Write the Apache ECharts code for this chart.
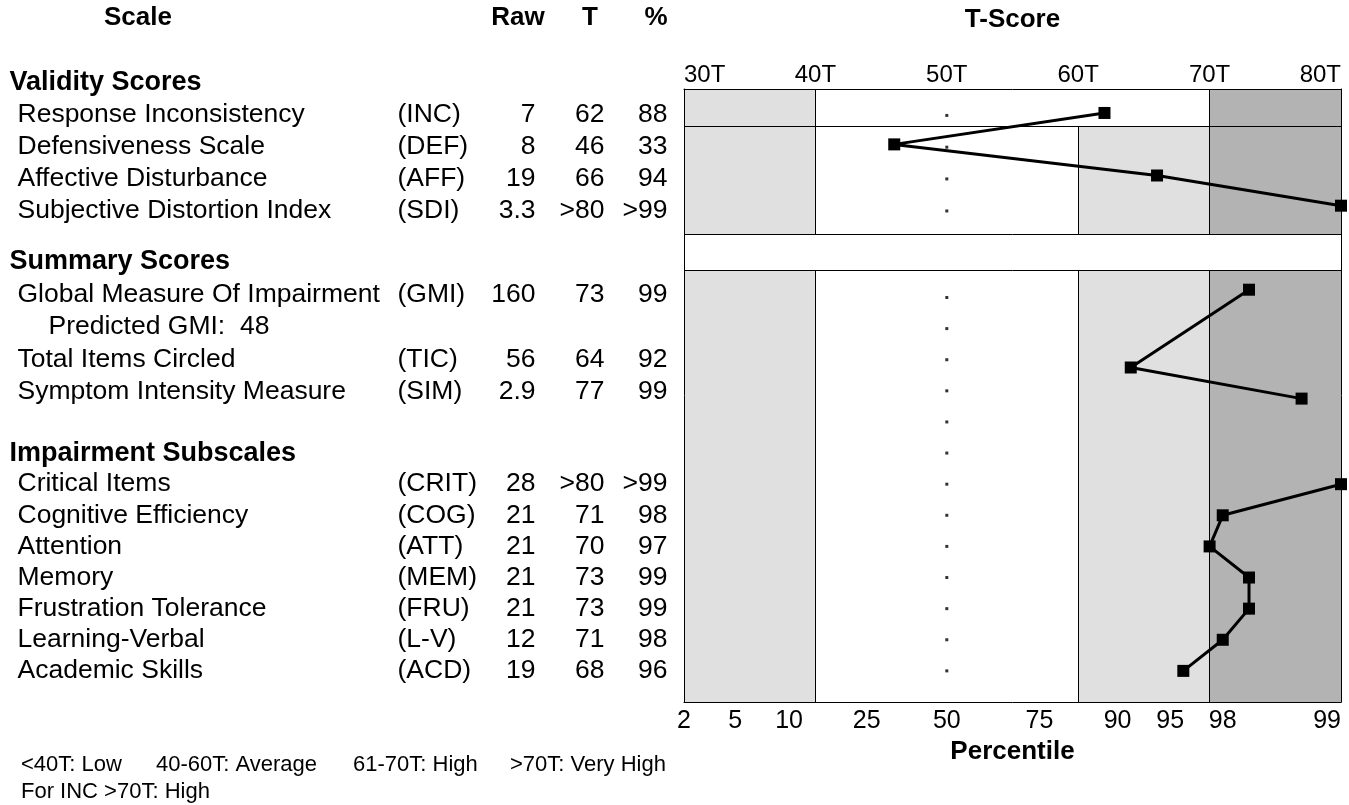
<!DOCTYPE html>
<html>
<head>
<meta charset="utf-8">
<script src="https://cdn.jsdelivr.net/npm/echarts@6/dist/echarts.min.js"></script>
<style>
html,body{margin:0;padding:0;background:#fff;}
#c{width:1349px;height:805px;}
</style>
</head>
<body>
<div id="c"></div>
<script>
// ---------------- data ----------------
const sectionTitles = ['Validity Scores', 'Summary Scores', 'Impairment Subscales'];
const scaleNames = ['Response Inconsistency', 'Defensiveness Scale', 'Affective Disturbance', 'Subjective Distortion Index',
  'Global Measure Of Impairment', 'Total Items Circled', 'Symptom Intensity Measure',
  'Critical Items', 'Cognitive Efficiency', 'Attention', 'Memory', 'Frustration Tolerance', 'Learning-Verbal', 'Academic Skills'];
const scaleAbbr = ['(INC)', '(DEF)', '(AFF)', '(SDI)', '(GMI)', '(TIC)', '(SIM)', '(CRIT)', '(COG)', '(ATT)', '(MEM)', '(FRU)', '(L-V)', '(ACD)'];
const scaleSection = [0, 0, 0, 0, 1, 1, 1, 2, 2, 2, 2, 2, 2, 2];
const subLines = ['', '', '', '', 'Predicted GMI:  48', '', '', '', '', '', '', '', '', ''];
const rawScores = ['7', '8', '19', '3.3', '160', '56', '2.9', '28', '21', '21', '21', '21', '12', '19'];
const tScores = ['62', '46', '66', '>80', '73', '64', '77', '>80', '71', '70', '73', '73', '71', '68'];
const percentiles = ['88', '33', '94', '>99', '99', '92', '99', '>99', '98', '97', '99', '99', '98', '96'];
// T value where each marker is drawn (>80 drawn at the 80T edge)
const plotT = [62, 46, 66, 80, 73, 64, 77, 80, 71, 70, 73, 73, 71, 68];
// row (table line) where each marker is drawn
const markerRow = [0.07, 1.08, 2.08, 3.05, 5.75, 8.25, 9.25, 12, 13, 14, 15, 16, 17, 18];
// rows carrying the small reference dot at 50T
const dotRows = [0.15, 1.17, 2.19, 3.22, 6, 7, 8, 9, 10, 11, 12, 13, 14, 15, 16, 17, 18];
const dotT = 50;
// percentile tick labels and their T-equivalent positions
const pctLabels = ['2', '5', '10', '25', '50', '75', '90', '95', '98', '99'];
const pctAtT = [30, 33.9, 38.0, 43.9, 50, 57.05, 63.0, 67.0, 71.0, 80];
// interpretation bands (T ranges)
const bandCuts = [30, 40, 60, 70, 80];
const legendItems = ['<40T: Low', '40-60T: Average', '61-70T: High', '>70T: Very High'];
const legendNote = 'For INC >70T: High';

// ---------------- layout ----------------
const FONT = '"Liberation Sans", Arial, Helvetica, sans-serif';
const ROW_MIN = -0.7, ROW_MAX = 19;
const GRID_TOP = 89, GRID_BOTTOM = 103, PLOT_LEFT = 684, PLOT_RIGHT = 8;
const sectionStart = [-0.9, 4.85, 11];
const sectionStep = [1.03, 1.045, 1.0];
const incLine = 0.49, gapTop = 3.96, gapBottom = 5.12;
const LIGHT = '#e0e0e0', DARK = '#b3b3b3';
const col = {header: 9, name: 17, sub: 48, abbr: 397, raw: 536, t: 605, pct: 668};
const TABLE_FS = 26.5;

// ---------------- table text items ----------------
const tableItems = [];
function addText(x, row, text, align, bold) {
  tableItems.push({
    value: [x, row],
    label: {
      show: true,
      formatter: text,
      position: align === 'right' ? 'left' : 'right',
      distance: 0,
      color: '#000',
      opacity: 1,
      textBorderWidth: 0,
      textBorderColor: 'transparent',
      textShadowBlur: 0,
      fontFamily: FONT,
      fontSize: bold ? 27 : TABLE_FS,
      fontWeight: bold ? 'bold' : 'normal'
    }
  });
}
let lastSec = -1, cursor = 0;
for (let i = 0; i < scaleNames.length; i++) {
  const s = scaleSection[i];
  if (s !== lastSec) {
    addText(col.header, sectionStart[s], sectionTitles[s], 'left', true);
    cursor = sectionStart[s] + sectionStep[s];
    lastSec = s;
  }
  addText(col.name, cursor, scaleNames[i], 'left', false);
  addText(col.abbr, cursor, scaleAbbr[i], 'left', false);
  addText(col.raw, cursor, rawScores[i], 'right', false);
  addText(col.t, cursor, tScores[i], 'right', false);
  addText(col.pct, cursor, percentiles[i], 'right', false);
  cursor += sectionStep[s];
  if (subLines[i]) {
    addText(col.sub, cursor, subLines[i], 'left', false);
    cursor += sectionStep[s];
  }
}

// ---------------- bands ----------------
const areas = [];
const vlines = [];
function area(x1, x2, y1, y2, color) {
  areas.push([{xAxis: x1, yAxis: y1, itemStyle: {color: color}}, {xAxis: x2, yAxis: y2}]);
}
function vline(x, y1, y2) {
  vlines.push([{coord: [x, y1]}, {coord: [x, y2]}]);
}
function hline(y) {
  vlines.push([{coord: [bandCuts[0], y]}, {coord: [bandCuts[4], y]}]);
}
area(bandCuts[0], bandCuts[1], ROW_MIN, incLine, LIGHT);
area(bandCuts[3], bandCuts[4], ROW_MIN, incLine, DARK);
vline(bandCuts[1], ROW_MIN, incLine);
vline(bandCuts[3], ROW_MIN, incLine);
[[incLine, gapTop], [gapBottom, ROW_MAX]].forEach(function (r) {
  area(bandCuts[0], bandCuts[1], r[0], r[1], LIGHT);
  area(bandCuts[2], bandCuts[3], r[0], r[1], LIGHT);
  area(bandCuts[3], bandCuts[4], r[0], r[1], DARK);
  vline(bandCuts[1], r[0], r[1]);
  vline(bandCuts[2], r[0], r[1]);
  vline(bandCuts[3], r[0], r[1]);
});
hline(incLine);
hline(gapTop);
hline(gapBottom);

// ---------------- marker lines per section ----------------
const lineSeries = [0, 1, 2].map(function (s) {
  const pts = [];
  for (let i = 0; i < plotT.length; i++) {
    if (scaleSection[i] === s) pts.push([plotT[i], markerRow[i]]);
  }
  return {
    type: 'line', xAxisIndex: 0, yAxisIndex: 0, data: pts, z: 4,
    symbol: 'rect', symbolSize: 12, showSymbol: true, clip: false,
    lineStyle: {color: '#000', width: 3}, itemStyle: {color: '#000'},
    silent: true, animation: false
  };
});

const chart = echarts.init(document.getElementById('c'));
const option = {
  animation: false,
  backgroundColor: '#fff',
  textStyle: {fontFamily: FONT, color: '#000'},
  grid: [
    {left: PLOT_LEFT, right: PLOT_RIGHT, top: GRID_TOP, bottom: GRID_BOTTOM},
    {left: 0, width: PLOT_LEFT, top: GRID_TOP, bottom: GRID_BOTTOM}
  ],
  xAxis: [
    {
      gridIndex: 0, type: 'value', position: 'top', min: 30, max: 80, interval: 10, z: 6,
      name: 'T-Score', nameLocation: 'middle', nameGap: 56,
      nameTextStyle: {fontFamily: FONT, fontSize: 26, fontWeight: 'bold', color: '#000'},
      axisLine: {show: true, onZero: false, lineStyle: {color: '#000', width: 1}},
      axisTick: {show: false}, splitLine: {show: false},
      axisLabel: {fontFamily: FONT, fontSize: 24, color: '#000', margin: 2,
        formatter: function (v) { return v + 'T'; }, alignMinLabel: 'left', alignMaxLabel: 'right'}
    },
    {
      gridIndex: 0, type: 'value', position: 'bottom', min: 30, max: 80, z: 6,
      name: 'Percentile', nameLocation: 'middle', nameGap: 24,
      nameTextStyle: {fontFamily: FONT, fontSize: 26, fontWeight: 'bold', color: '#000'},
      axisLine: {show: true, onZero: false, lineStyle: {color: '#000', width: 1}},
      axisTick: {show: false}, splitLine: {show: false},
      axisLabel: {fontFamily: FONT, fontSize: 25, color: '#000', margin: 7,
        customValues: pctAtT, alignMaxLabel: 'right',
        formatter: function (v) {
          const k = pctAtT.indexOf(v);
          return k >= 0 ? pctLabels[k] : '';
        }}
    },
    {gridIndex: 1, type: 'value', min: 0, max: PLOT_LEFT, show: false}
  ],
  yAxis: [
    {gridIndex: 0, type: 'value', inverse: true, min: ROW_MIN, max: ROW_MAX, position: 'left', z: 6,
      axisLine: {show: true, onZero: false, lineStyle: {color: '#000', width: 1}},
      axisTick: {show: false}, axisLabel: {show: false}, splitLine: {show: false}},
    {gridIndex: 0, type: 'value', inverse: true, min: ROW_MIN, max: ROW_MAX, position: 'right', z: 6,
      axisLine: {show: true, onZero: false, lineStyle: {color: '#000', width: 1}},
      axisTick: {show: false}, axisLabel: {show: false}, splitLine: {show: false}},
    {gridIndex: 1, type: 'value', inverse: true, min: ROW_MIN, max: ROW_MAX, show: false}
  ],
  series: [
    {
      type: 'scatter', xAxisIndex: 0, yAxisIndex: 0, z: 1,
      data: dotRows.map(function (r) { return [dotT, r]; }),
      symbol: 'rect', symbolSize: 3, itemStyle: {color: '#000'}, silent: true,
      markArea: {silent: true, itemStyle: {borderWidth: 0}, data: areas},
      markLine: {silent: true, symbol: ['none', 'none'], label: {show: false},
        lineStyle: {color: '#000', width: 1, type: 'solid'}, data: vlines}
    }
  ].concat(lineSeries).concat([
    {
      type: 'scatter', xAxisIndex: 2, yAxisIndex: 2, clip: false, silent: true,
      symbolSize: 1, itemStyle: {color: 'rgba(0,0,0,0)'},
      label: {show: true, fontFamily: FONT, fontSize: TABLE_FS, color: '#000', textBorderWidth: 0},
      data: tableItems
    }
  ]),
  graphic: [
    {type: 'text', x: 138, y: 18, style: {text: 'Scale', font: 'bold 26px ' + FONT, fill: '#000', textAlign: 'center', textVerticalAlign: 'middle'}},
    {type: 'text', x: 518, y: 18, style: {text: 'Raw', font: 'bold 26px ' + FONT, fill: '#000', textAlign: 'center', textVerticalAlign: 'middle'}},
    {type: 'text', x: 590, y: 18, style: {text: 'T', font: 'bold 26px ' + FONT, fill: '#000', textAlign: 'center', textVerticalAlign: 'middle'}},
    {type: 'text', x: 656, y: 18, style: {text: '%', font: 'bold 26px ' + FONT, fill: '#000', textAlign: 'center', textVerticalAlign: 'middle'}},
    {type: 'text', x: 21, y: 765, style: {text: legendItems[0], font: '22px ' + FONT, fill: '#000', textVerticalAlign: 'middle'}},
    {type: 'text', x: 156, y: 765, style: {text: legendItems[1], font: '22px ' + FONT, fill: '#000', textVerticalAlign: 'middle'}},
    {type: 'text', x: 353, y: 765, style: {text: legendItems[2], font: '22px ' + FONT, fill: '#000', textVerticalAlign: 'middle'}},
    {type: 'text', x: 510, y: 765, style: {text: legendItems[3], font: '22px ' + FONT, fill: '#000', textVerticalAlign: 'middle'}},
    {type: 'text', x: 21, y: 792, style: {text: legendNote, font: '22px ' + FONT, fill: '#000', textVerticalAlign: 'middle'}}
  ]
};
chart.setOption(option);
</script>
</body>
</html>
